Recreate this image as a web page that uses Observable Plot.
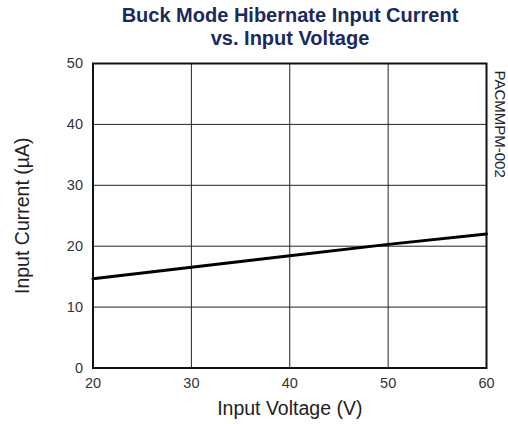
<!DOCTYPE html>
<html>
<head>
<meta charset="utf-8">
<script src="https://cdn.jsdelivr.net/npm/d3@7"></script>
<script src="https://cdn.jsdelivr.net/npm/@observablehq/plot@0.6"></script>
<style>
  body { margin: 0; background: #fff; font-family: "Liberation Sans", Arial, sans-serif; }
  #title { height: 52px; width: 508px; box-sizing: border-box; padding-left: 72px; padding-top: 4px; text-align: center; color: #1b2a5c; font-weight: bold; font-size: 20px; line-height: 23px; }
  svg { display: block; }
</style>
</head>
<body>
<div id="title">Buck Mode Hibernate Input Current<br>vs. Input Voltage</div>
<div id="chart"></div>
<script>
const voltage = [20, 30, 40, 50, 60];
const current = [14.65, 16.55, 18.45, 20.3, 22.0];
const xTicks = [20, 30, 40, 50, 60];
const yTicks = [0, 10, 20, 30, 40, 50];
const xLabel = "Input Voltage (V)";
const yLabel = "Input Current (µA)";
const docId = "PACMMPM-002";

const data = voltage.map((v, i) => ({v, c: current[i]}));

const chart = Plot.plot({
  width: 508,
  height: 372,
  marginTop: 11,
  marginBottom: 56.5,
  marginLeft: 92.5,
  marginRight: 22,
  style: {fontFamily: "Liberation Sans, Arial, sans-serif", color: "#333", background: "#fff"},
  x: {domain: [20, 60]},
  y: {domain: [0, 50]},
  marks: [
    Plot.gridX(xTicks, {stroke: "#222", strokeOpacity: 1, strokeWidth: 1}),
    Plot.gridY(yTicks, {stroke: "#222", strokeOpacity: 1, strokeWidth: 1}),
    Plot.axisX(xTicks, {tickSize: 0, tickPadding: 10, fontSize: 14.5, label: null, fill: "#333"}),
    Plot.axisY(yTicks, {tickSize: 0, tickPadding: 10, fontSize: 14.5, label: null, fill: "#333"}),
    Plot.line(data, {x: "v", y: "c", stroke: "#000", strokeWidth: 3}),
    Plot.frame({stroke: "#111", strokeWidth: 2}),
    Plot.text([xLabel], {frameAnchor: "bottom", dy: 46.5, fontSize: 19.5, fill: "#222"}),
    Plot.text([yLabel], {frameAnchor: "left", dx: -70, rotate: -90, textAnchor: "middle", fontSize: 19.5, fill: "#222"}),
    Plot.text([docId], {frameAnchor: "top-right", dx: 19, dy: 7, rotate: 90, textAnchor: "start", fontSize: 15, fill: "#222"})
  ]
});
document.getElementById("chart").appendChild(chart);
</script>
</body>
</html>
